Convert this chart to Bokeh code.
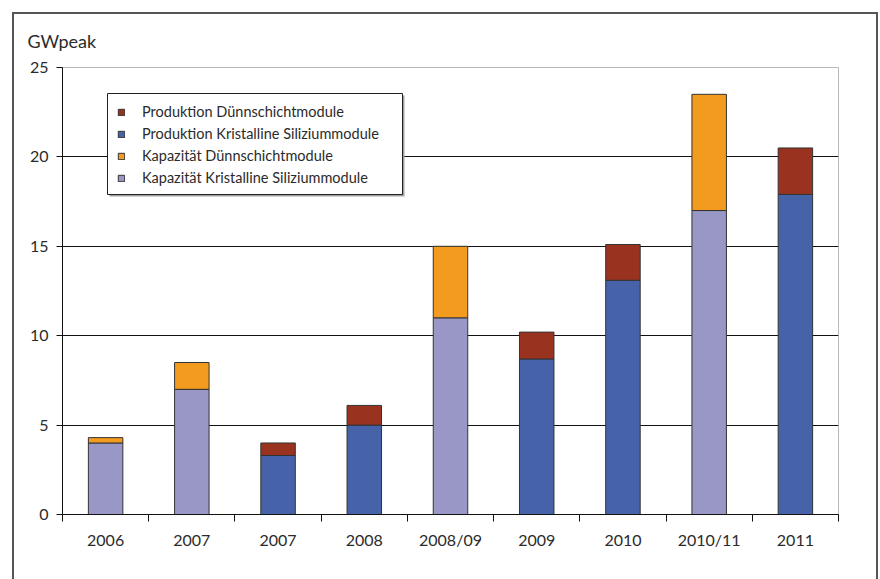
from bokeh.plotting import figure
from bokeh.models import (ColumnDataSource, FixedTicker, Legend, LegendItem,
                          BoxAnnotation, Title)
from bokeh.embed import file_html
from bokeh.resources import INLINE

# Kapazität vs. Produktion von PV-Modulen (GWpeak)
labels = ["2006", "2007", "2007", "2008", "2008/09", "2009", "2010", "2010/11", "2011"]
kind = ["Kapazität", "Kapazität", "Produktion", "Produktion", "Kapazität",
        "Produktion", "Produktion", "Kapazität", "Produktion"]
kristallin = [4.0, 7.0, 3.3, 5.0, 11.0, 8.7, 13.1, 17.0, 17.9]
duennschicht = [0.3, 1.5, 0.7, 1.1, 4.0, 1.5, 2.0, 6.5, 2.6]
y_ticks = [0, 5, 10, 15, 20, 25]

FONT = "Lato"
TXT = "#2b2b2b"
OUT = "#333333"
C_PROD_DS = "#993320"
C_PROD_KR = "#4662A8"
C_CAP_DS = "#F29B1F"
C_CAP_KR = "#9997C6"


def subset(k):
    idx = [i for i, v in enumerate(kind) if v == k]
    return ColumnDataSource(dict(
        x=idx,
        kr=[kristallin[i] for i in idx],
        top=[kristallin[i] + duennschicht[i] for i in idx],
    ))


src_cap = subset("Kapazität")
src_prod = subset("Produktion")

p = figure(width=880, height=579, frame_width=776, frame_height=447,
           min_border_left=62, min_border_right=42, min_border_top=67,
           min_border_bottom=65, x_range=(-0.5, 8.5), y_range=(0, 25),
           output_backend="svg", toolbar_location=None,
           background_fill_color="white", border_fill_alpha=0)

# open frame (top, left, right) around the whole graphic, painted behind the canvas
_line = "linear-gradient(#555555, #555555)"
p.styles = {
    "background": (f"{_line} 12px 12px / 2px 100% no-repeat, "
                   f"{_line} 12px 12px / 866px 2px no-repeat, "
                   f"{_line} 876px 12px / 2px 100% no-repeat, white"),
}

p.outline_line_color = "#b8b8b8"
p.outline_line_width = 1

# y-axis caption
p.title = Title(text="GWpeak", align="left", offset=-35, standoff=32,
                text_font=FONT, text_font_size="18px", text_font_style="normal",
                text_color=TXT)

W = 0.4
r_cap_kr = p.vbar(x="x", bottom=0, top="kr", width=W, source=src_cap,
                  fill_color=C_CAP_KR, line_color=OUT, line_width=1)
r_cap_ds = p.vbar(x="x", bottom="kr", top="top", width=W, source=src_cap,
                  fill_color=C_CAP_DS, line_color=OUT, line_width=1)
r_prod_kr = p.vbar(x="x", bottom=0, top="kr", width=W, source=src_prod,
                   fill_color=C_PROD_KR, line_color=OUT, line_width=1)
r_prod_ds = p.vbar(x="x", bottom="kr", top="top", width=W, source=src_prod,
                   fill_color=C_PROD_DS, line_color=OUT, line_width=1)

# grid
p.xgrid.visible = False
p.ygrid.ticker = FixedTicker(ticks=[5, 10, 15, 20])
p.ygrid.grid_line_color = "#111111"
p.ygrid.grid_line_width = 1

# y axis
p.yaxis.ticker = FixedTicker(ticks=y_ticks)
p.yaxis.axis_line_color = "#111111"
p.yaxis.major_tick_line_color = "#111111"
p.yaxis.major_tick_out = 6
p.yaxis.major_tick_in = 0
p.yaxis.minor_tick_line_color = None
p.yaxis.major_label_text_font = FONT
p.yaxis.major_label_text_font_size = "16px"
p.yaxis.major_label_text_color = TXT
p.yaxis.major_label_standoff = 8

# x axis: labels at bar centres, tick marks between the categories
p.xaxis.ticker = FixedTicker(ticks=list(range(len(labels))),
                             minor_ticks=[i - 0.5 for i in range(len(labels) + 1)])
p.xaxis.major_label_overrides = {i: lab for i, lab in enumerate(labels)}
p.xaxis.axis_line_color = "#111111"
p.xaxis.major_tick_out = 0
p.xaxis.major_tick_in = 0
p.xaxis.minor_tick_out = 7
p.xaxis.minor_tick_in = 0
p.xaxis.minor_tick_line_color = "#111111"
p.xaxis.major_label_text_font = FONT
p.xaxis.major_label_text_font_size = "16px"
p.xaxis.major_label_text_color = TXT
p.xaxis.major_label_standoff = 8

# legend box with a slight shadow
p.add_layout(BoxAnnotation(left=109, right=404, top=95, bottom=196,
                           left_units="canvas", right_units="canvas",
                           top_units="canvas", bottom_units="canvas",
                           fill_color="#a0a0a0", fill_alpha=1, line_alpha=0))
p.add_layout(BoxAnnotation(left=107, right=402, top=93, bottom=194,
                           left_units="canvas", right_units="canvas",
                           top_units="canvas", bottom_units="canvas",
                           fill_color="white", fill_alpha=1,
                           line_color="#222222", line_alpha=1, line_width=1))

legend = Legend(items=[
    LegendItem(label="Produktion Dünnschichtmodule", renderers=[r_prod_ds]),
    LegendItem(label="Produktion Kristalline Siliziummodule", renderers=[r_prod_kr]),
    LegendItem(label="Kapazität Dünnschichtmodule", renderers=[r_cap_ds]),
    LegendItem(label="Kapazität Kristalline Siliziummodule", renderers=[r_cap_kr]),
], location=(55, 328))
legend.border_line_color = None
legend.background_fill_alpha = 0
legend.padding = 0
legend.margin = 0
legend.spacing = 5
legend.glyph_width = 8
legend.glyph_height = 8
legend.label_height = 14
legend.label_standoff = 17
legend.label_text_font = FONT
legend.label_text_font_size = "14.5px"
legend.label_text_color = TXT
legend.label_text_baseline = "middle"
p.add_layout(legend, "center")

with open("out.html", "w") as f:
    f.write(file_html(p, INLINE))
